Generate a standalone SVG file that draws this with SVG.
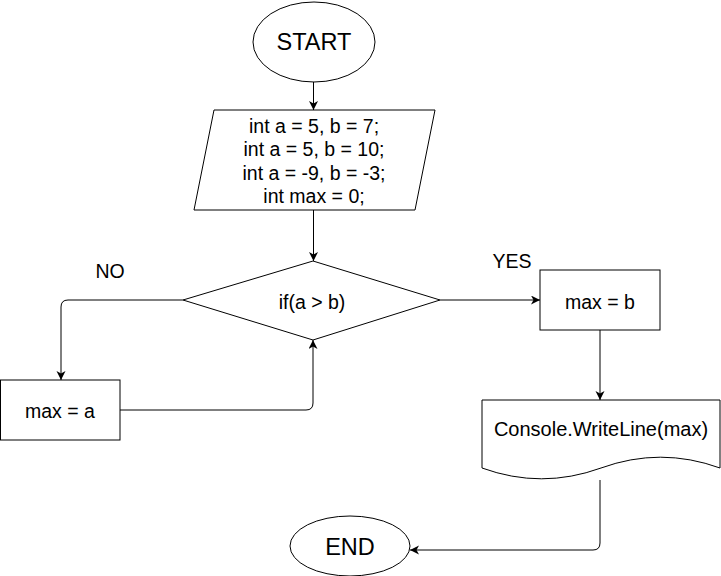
<svg xmlns="http://www.w3.org/2000/svg" width="721" height="576" viewBox="0 0 721 576">
<defs>
<marker id="arr" markerUnits="userSpaceOnUse" markerWidth="12" markerHeight="10" refX="9" refY="4.5" orient="auto">
<path d="M0,0 L9,4.5 L0,9 L2.5,4.5 Z" fill="#000"/>
</marker>
<style>
.sh{fill:#fff;stroke:#000;stroke-width:1}
.t{font-family:"Liberation Sans",Arial,sans-serif;font-size:19.5px;fill:#000;text-anchor:middle}
.big{font-size:23.5px}
.cn{fill:none;stroke:#000;stroke-width:1;marker-end:url(#arr)}
</style>
</defs>
<rect width="721" height="576" fill="#fff"/>
<g id="connectors">
<path class="cn" d="M313.5,82 V110"/>
<path class="cn" d="M313.5,210 V261"/>
<path class="cn" d="M183,300 H68 Q61,300 61,307 V380"/>
<path class="cn" d="M120,410 H306 Q313,410 313,403 V340"/>
<path class="cn" d="M440,300 H540"/>
<path class="cn" d="M600,330 V400"/>
<path class="cn" d="M600,480 V543 Q600,550 593,550 H410"/>
</g>
<g id="start">
<ellipse class="sh" cx="314" cy="42" rx="61" ry="40"/>
<text class="t big" x="314" y="50">START</text>
</g>
<g id="init">
<polygon class="sh" points="214,110 435,110 415,210 194,210"/>
<text class="t" x="314" y="132.5">int a = 5, b = 7;</text>
<text class="t" x="314" y="156">int a = 5, b = 10;</text>
<text class="t" x="314" y="179.5">int a = -9, b = -3;</text>
<text class="t" x="314" y="203">int max = 0;</text>
</g>
<g id="decision">
<polygon class="sh" points="313,261 440,300 313,340 183,300"/>
<text class="t" x="312" y="308.5">if(a &gt; b)</text>
</g>
<g id="label-no">
<text class="t" x="110" y="278">NO</text>
</g>
<g id="label-yes">
<text class="t" x="512" y="268">YES</text>
</g>
<g id="maxa">
<rect class="sh" x="0.5" y="380" width="119.5" height="60"/>
<text class="t" x="60" y="418">max = a</text>
</g>
<g id="maxb">
<rect class="sh" x="540" y="270" width="120" height="60"/>
<text class="t" x="600" y="308.5">max = b</text>
</g>
<g id="output">
<path class="sh" d="M482,400 H720 V468 Q660.5,446.4 601,468 Q541.5,489.6 482,468 Z"/>
<text class="t" x="601" y="435.5" style="font-size:20px">Console.WriteLine(max)</text>
</g>
<g id="end">
<ellipse class="sh" cx="350" cy="546" rx="60" ry="30"/>
<text class="t big" x="350" y="554.5">END</text>
</g>
</svg>
